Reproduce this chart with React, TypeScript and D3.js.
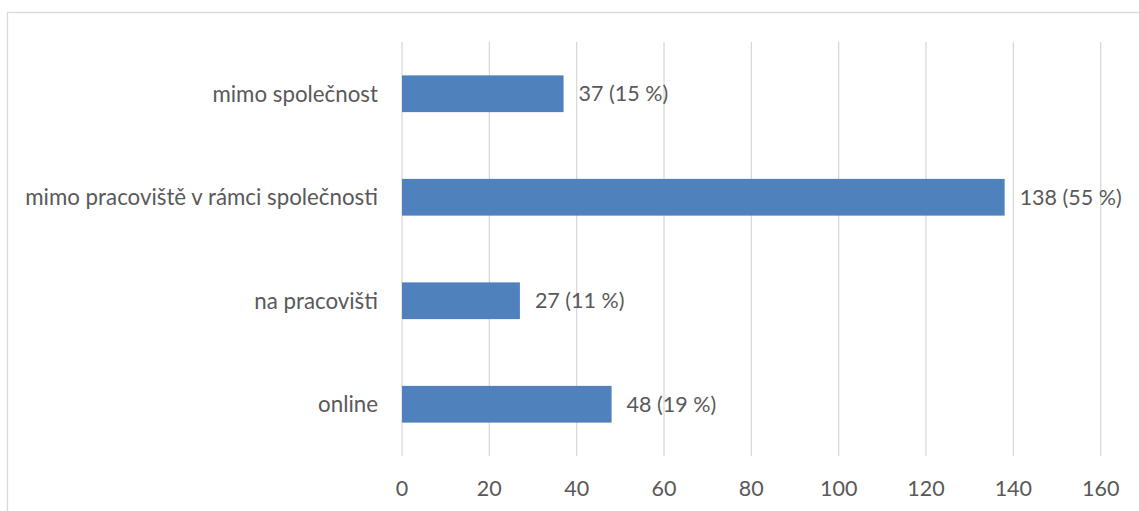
import React from "react";
import { select, scaleLinear, scaleBand, range } from "d3";

const categories = [
  "mimo společnost",
  "mimo pracoviště v rámci společnosti",
  "na pracovišti",
  "online",
];
const counts = [37, 138, 27, 48];
const shares = [15, 55, 11, 19];
const ticks = [0, 20, 40, 60, 80, 100, 120, 140, 160];

const W = 1139;
const H = 511;
const FONT = "Lato, 'Open Sans', sans-serif";
const TEXT = "#595959";
const FS = 21.5;

export default function App() {
  const svgRef = React.useRef<SVGSVGElement | null>(null);

  React.useEffect(() => {
    const svg = select(svgRef.current);
    svg.selectAll("*").remove();

    const margin = { top: 42, bottom: 55, left: 402, right: 38 };

    const x = scaleLinear()
      .domain([0, 160])
      .range([margin.left, W - margin.right - 0.3]);

    const y = scaleBand<string>()
      .domain(categories)
      .range([margin.top, H - margin.bottom])
      .paddingInner(0.645)
      .paddingOuter(0.3225);

    // chart border
    svg
      .append("rect")
      .attr("x", 7.5)
      .attr("y", 12.5)
      .attr("width", W + 10)
      .attr("height", H + 10)
      .attr("fill", "none")
      .attr("stroke", "#d9d9d9")
      .attr("stroke-width", 1.3);

    // gridlines
    svg
      .append("g")
      .selectAll("line")
      .data(ticks)
      .join("line")
      .attr("x1", (d) => x(d))
      .attr("x2", (d) => x(d))
      .attr("y1", margin.top)
      .attr("y2", H - margin.bottom)
      .attr("stroke", "#d9d9d9")
      .attr("stroke-width", 1.3);

    // bars
    svg
      .append("g")
      .selectAll("rect")
      .data(range(categories.length))
      .join("rect")
      .attr("x", x(0))
      .attr("y", (i) => y(categories[i])!)
      .attr("width", (i) => x(counts[i]) - x(0))
      .attr("height", y.bandwidth())
      .attr("fill", "#4f81bd");

    // data labels
    svg
      .append("g")
      .selectAll("text")
      .data(range(categories.length))
      .join("text")
      .attr("x", (i) => x(counts[i]) + 15)
      .attr("y", (i) => y(categories[i])! + y.bandwidth() / 2)
      .attr("dy", "0.35em")
      .attr("font-family", FONT)
      .attr("font-size", FS)
      .attr("fill", TEXT)
      .text((i) => `${counts[i]} (${shares[i]} %)`);

    // category labels
    svg
      .append("g")
      .selectAll("text")
      .data(categories)
      .join("text")
      .attr("x", margin.left - 24)
      .attr("y", (d) => y(d)! + y.bandwidth() / 2)
      .attr("dy", "0.35em")
      .attr("text-anchor", "end")
      .attr("font-family", FONT)
      .attr("font-size", 22.3)
      .attr("fill", TEXT)
      .text((d) => d);

    // x tick labels
    svg
      .append("g")
      .selectAll("text")
      .data(ticks)
      .join("text")
      .attr("x", (d) => x(d))
      .attr("y", 488)
      .attr("dy", "0.35em")
      .attr("text-anchor", "middle")
      .attr("font-family", FONT)
      .attr("font-size", FS)
      .attr("fill", TEXT)
      .text((d) => d);
  }, []);

  return (
    <svg
      ref={svgRef}
      width={W}
      height={H}
      style={{ position: "absolute", left: 0, top: 0, background: "#fff" }}
    />
  );
}
